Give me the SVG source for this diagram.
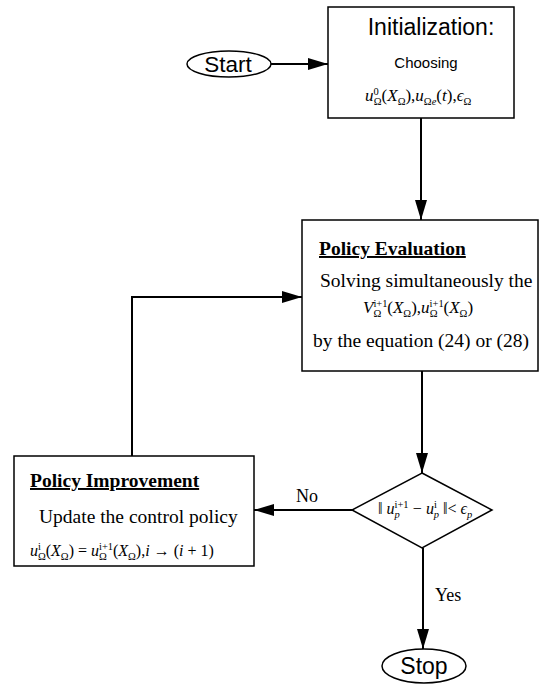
<svg xmlns="http://www.w3.org/2000/svg" width="540" height="690" viewBox="0 0 540 690">
<defs>
<marker id="ah" viewBox="0 0 20 12" refX="20" refY="6" markerWidth="20" markerHeight="12" markerUnits="userSpaceOnUse" orient="auto">
<path d="M0,0 L20,6 L0,12 Z" fill="#000"/>
</marker>
<style>
.box{fill:#fff;stroke:#000;stroke-width:1.5}
.ln{fill:none;stroke:#000;stroke-width:2}
.sans{font-family:"Liberation Sans",Arial,sans-serif;fill:#000}
.serif{font-family:"Liberation Serif","Times New Roman",serif;fill:#000}
.ttl{font-weight:bold;text-decoration:underline}
.m{font-family:"Liberation Serif","Times New Roman",serif;fill:#000;font-size:17px}
.m16{font-size:16px}
.i{font-style:italic}
.s{font-size:10.5px}
</style>
</defs>
<rect width="540" height="690" fill="#fff"/>
<g id="connectors">
<line class="ln" x1="271" y1="64" x2="328" y2="64" marker-end="url(#ah)"/>
<line class="ln" x1="421" y1="118" x2="421" y2="220" marker-end="url(#ah)"/>
<line class="ln" x1="422" y1="371" x2="422" y2="473" marker-end="url(#ah)"/>
<line class="ln" x1="352" y1="510" x2="254" y2="510" marker-end="url(#ah)"/>
<line class="ln" x1="423" y1="548" x2="423" y2="649" marker-end="url(#ah)"/>
<polyline class="ln" points="132,456 132,297 302,297" marker-end="url(#ah)"/>
<text class="serif" x="296" y="502" font-size="18">No</text>
<text class="serif" x="435" y="601" font-size="18">Yes</text>
</g>
<g id="start">
<ellipse class="box" cx="229" cy="64" rx="42" ry="13"/>
<text class="sans" x="228" y="72" font-size="22.5" text-anchor="middle">Start</text>
</g>
<g id="init">
<rect class="box" x="328" y="7" width="186" height="111"/>
<text class="sans" x="431" y="35" font-size="23" text-anchor="middle">Initialization:</text>
<text class="sans" x="426" y="68" font-size="15" text-anchor="middle">Choosing</text>
<text class="m" x="365" y="101"><tspan class="i">u</tspan><tspan class="s" dy="-6">0</tspan><tspan class="s" dx="-5" dy="10">Ω</tspan><tspan dy="-4">(</tspan><tspan class="i">X</tspan><tspan class="s" dy="4">Ω</tspan><tspan dy="-4">),</tspan><tspan class="i">u</tspan><tspan class="s" dy="4">Ω</tspan><tspan class="s i">e</tspan><tspan dy="-4">(</tspan><tspan class="i">t</tspan><tspan>),</tspan><tspan class="i">ϵ</tspan><tspan class="s" dy="4">Ω</tspan></text>
</g>
<g id="policy-evaluation">
<rect class="box" x="302" y="220" width="236" height="151"/>
<text class="serif ttl" x="319" y="255" font-size="19.5">Policy Evaluation</text>
<text class="serif" x="320" y="287" font-size="19.5">Solving simultaneously the</text>
<text class="m" x="363" y="313"><tspan class="i">V</tspan><tspan class="s" dy="-6">i+1</tspan><tspan class="s" dx="-14" dy="10">Ω</tspan><tspan dx="6" dy="-4">(</tspan><tspan class="i">X</tspan><tspan class="s" dy="4">Ω</tspan><tspan dy="-4">),</tspan><tspan class="i">u</tspan><tspan class="s" dy="-6">i+1</tspan><tspan class="s" dx="-14" dy="10">Ω</tspan><tspan dx="6" dy="-4">(</tspan><tspan class="i">X</tspan><tspan class="s" dy="4">Ω</tspan><tspan dy="-4">)</tspan></text>
<text class="serif" x="313" y="347" font-size="19.5">by the equation (24) or (28)</text>
</g>
<g id="policy-improvement">
<rect class="box" x="14" y="456" width="240" height="110"/>
<text class="serif ttl" x="30" y="487" font-size="19.5">Policy Improvement</text>
<text class="serif" x="39" y="523" font-size="19.5">Update the control policy</text>
<text class="m m16" x="30" y="556"><tspan class="i">u</tspan><tspan class="s" dy="-6">i</tspan><tspan class="s" dx="-3" dy="10">Ω</tspan><tspan dy="-4">(</tspan><tspan class="i">X</tspan><tspan class="s" dy="4">Ω</tspan><tspan dy="-4">) = </tspan><tspan class="i">u</tspan><tspan class="s" dy="-6">i+1</tspan><tspan class="s" dx="-14" dy="10">Ω</tspan><tspan dx="6" dy="-4">(</tspan><tspan class="i">X</tspan><tspan class="s" dy="4">Ω</tspan><tspan dy="-4">),</tspan><tspan class="i">i</tspan><tspan> → (</tspan><tspan class="i">i</tspan><tspan> + 1)</tspan></text>
</g>
<g id="decision">
<polygon class="box" points="422,473 492,510 422,548 352,510"/>
<text class="m m16" x="378" y="514"><tspan>‖ </tspan><tspan class="i">u</tspan><tspan class="s" dy="-6">i+1</tspan><tspan class="s i" dx="-14" dy="10">p</tspan><tspan dx="9" dy="-4"> − </tspan><tspan class="i">u</tspan><tspan class="s" dy="-6">i</tspan><tspan class="s i" dx="-3" dy="10">p</tspan><tspan dy="-4"> ‖&lt; </tspan><tspan class="i">ϵ</tspan><tspan class="s i" dy="4">p</tspan></text>
</g>
<g id="stop">
<ellipse class="box" cx="424" cy="666" rx="42" ry="17"/>
<text class="sans" x="424" y="674" font-size="23" text-anchor="middle">Stop</text>
</g>
</svg>
